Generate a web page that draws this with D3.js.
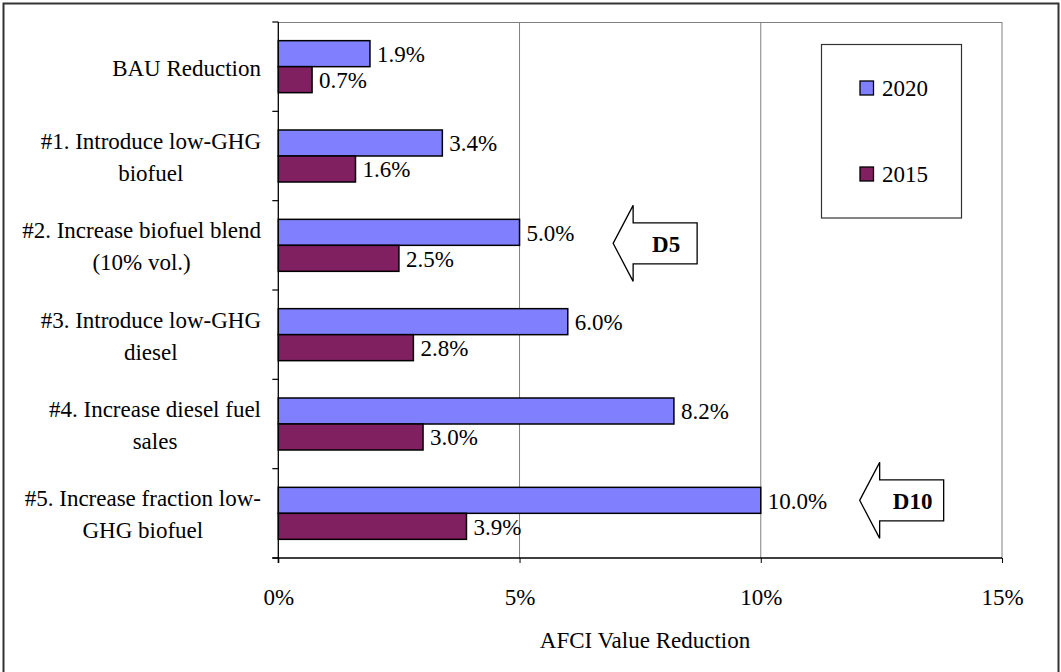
<!DOCTYPE html>
<html>
<head>
<meta charset="utf-8">
<script src="https://cdn.jsdelivr.net/npm/d3@7"></script>
<style>
  html, body { margin: 0; padding: 0; background: #fff; }
  svg text { font-family: 'Liberation Serif', Tinos, 'Times New Roman', 'DejaVu Serif', serif; }
</style>
</head>
<body>
<svg id="chart" width="1061" height="672"></svg>
<script>
// ---- data ----
const categories = [
  ["BAU Reduction"],
  ["#1. Introduce low-GHG", "biofuel"],
  ["#2. Increase biofuel blend", "(10% vol.)"],
  ["#3. Introduce low-GHG", "diesel"],
  ["#4. Increase diesel fuel", "sales"],
  ["#5. Increase fraction low-", "GHG biofuel"]
];
const seriesNames = ["2020", "2015"];
const values2020 = [1.9, 3.4, 5.0, 6.0, 8.2, 10.0];
const values2015 = [0.7, 1.6, 2.5, 2.8, 3.0, 3.9];
const xTicks = [0, 5, 10, 15];
const xTickLabels = ["0%", "5%", "10%", "15%"];
const axisTitle = "AFCI Value Reduction";
const annotations = [
  { text: "D5", category: 2, at: 6.94, shift: -2 },
  { text: "D10", category: 5, at: 12.05, shift: -13 }
];

const colors = { "2020": "#8080FF", "2015": "#802060" };
const seriesValues = { "2020": values2020, "2015": values2015 };
const FONT = "'Liberation Serif', Tinos, 'Times New Roman', 'DejaVu Serif', serif";

const svg = d3.select("#chart");
const plot = { left: 278.3, right: 1002, top: 22, bottom: 558 };
const FS = 23;

// outer frame
svg.append("rect").attr("x", 3.5).attr("y", 3.5).attr("width", 1055).attr("height", 672)
  .attr("fill", "#fff").attr("stroke", "#333").attr("stroke-width", 2);

const x = d3.scaleLinear().domain([0, 15]).range([plot.left, plot.right]);
const y = d3.scaleBand().domain(d3.range(categories.length)).range([plot.top, plot.bottom]).padding(0);
const sub = d3.scaleBand().domain(seriesNames).range([-26, 26]);

// gridlines
svg.append("g").selectAll("line").data(xTicks.filter(d => d > 0)).join("line")
  .attr("x1", d => x(d)).attr("x2", d => x(d))
  .attr("y1", plot.top).attr("y2", plot.bottom)
  .attr("stroke", "#808080").attr("stroke-width", 1);
svg.append("line").attr("x1", plot.left).attr("x2", plot.right)
  .attr("y1", plot.top + 0.5).attr("y2", plot.top + 0.5)
  .attr("stroke", "#808080").attr("stroke-width", 1.2);

// bars
const groups = svg.append("g").selectAll("g").data(categories.map((c, i) => i)).join("g")
  .attr("transform", i => `translate(0,${y(i) + y.bandwidth() / 2})`);
seriesNames.forEach(s => {
  groups.append("rect")
    .attr("x", x(0))
    .attr("y", sub(s))
    .attr("width", i => x(seriesValues[s][i]) - x(0))
    .attr("height", sub.bandwidth())
    .attr("fill", colors[s])
    .attr("stroke", "#000").attr("stroke-width", 1.5);
  groups.append("text")
    .attr("x", i => x(seriesValues[s][i]) + 7)
    .attr("y", sub(s) + sub.bandwidth() / 2)
    .attr("dy", "0.36em")
    .attr("font-size", FS).attr("font-family", FONT)
    .attr("fill", "#000")
    .text(i => seriesValues[s][i].toFixed(1) + "%");
});

// axes
const xAxis = d3.axisBottom(x).tickValues(xTicks).tickFormat((d, i) => xTickLabels[i]).tickSize(5).tickPadding(26);
const gx = svg.append("g").attr("transform", `translate(0,${plot.bottom})`).call(xAxis);
gx.select(".domain").remove();
gx.selectAll(".tick line").attr("stroke", "#000");
gx.selectAll(".tick text").attr("font-size", FS).attr("font-family", FONT).attr("fill", "#000");
gx.attr("font-family", FONT).attr("font-size", FS);
svg.append("line").attr("x1", plot.left - 6).attr("x2", plot.right)
  .attr("y1", plot.bottom).attr("y2", plot.bottom).attr("stroke", "#000").attr("stroke-width", 1.3);

// left axis line and ticks at band boundaries
svg.append("line").attr("x1", plot.left).attr("x2", plot.left)
  .attr("y1", plot.top).attr("y2", plot.bottom + 5).attr("stroke", "#000").attr("stroke-width", 1.3);
const boundaries = d3.range(categories.length + 1).map(i => plot.top + i * y.step());
svg.append("g").selectAll("line").data(boundaries).join("line")
  .attr("x1", plot.left - 6).attr("x2", plot.left)
  .attr("y1", d => d).attr("y2", d => d)
  .attr("stroke", "#000").attr("stroke-width", 1.2);

// category labels (block right-aligned, lines centered)
const labelRight = 261;
categories.forEach((lines, i) => {
  const c = y(i) + y.bandwidth() / 2;
  const g = svg.append("g");
  const texts = lines.map(t => g.append("text").attr("font-size", FS).attr("font-family", FONT).attr("fill", "#000").text(t));
  const widths = texts.map(t => t.node().getComputedTextLength());
  const maxW = d3.max(widths);
  const cx = labelRight - maxW / 2;
  texts.forEach((t, j) => {
    const base = lines.length === 1 ? c + 9 : c - 7 + j * 32;
    t.attr("x", cx).attr("y", base).attr("text-anchor", "middle");
  });
});

// axis title
svg.append("text").attr("x", 645).attr("y", 648).attr("text-anchor", "middle")
  .attr("font-size", FS).attr("font-family", FONT).attr("fill", "#000").text(axisTitle);

// legend
const lg = svg.append("g");
lg.append("rect").attr("x", 821.5).attr("y", 44.5).attr("width", 140).attr("height", 173.5)
  .attr("fill", "#fff").attr("stroke", "#333").attr("stroke-width", 1.2);
seriesNames.forEach((s, i) => {
  const yy = 81 + i * 86;
  lg.append("rect").attr("x", 860).attr("y", yy).attr("width", 13.5).attr("height", 14)
    .attr("fill", colors[s]).attr("stroke", "#000").attr("stroke-width", 1.3);
  lg.append("text").attr("x", 882).attr("y", yy + 15).attr("font-size", FS).attr("font-family", FONT)
    .attr("fill", "#000").text(s);
});

// annotation arrows
annotations.forEach(a => {
  const tipX = x(a.at);
  const cy = y(a.category) + y.bandwidth() / 2 + a.shift;
  const headW = 20, headH = 38, bodyH = 20.5, bodyLen = 64;
  const pts = [
    [tipX, cy],
    [tipX + headW, cy - headH],
    [tipX + headW, cy - bodyH],
    [tipX + headW + bodyLen, cy - bodyH],
    [tipX + headW + bodyLen, cy + bodyH],
    [tipX + headW, cy + bodyH],
    [tipX + headW, cy + headH]
  ];
  svg.append("polygon").attr("points", pts.map(p => p.join(",")).join(" "))
    .attr("fill", "#fff").attr("stroke", "#000").attr("stroke-width", 1.3);
  svg.append("text").attr("x", tipX + headW + bodyLen / 2 + 1).attr("y", cy + 9)
    .attr("text-anchor", "middle").attr("font-weight", "bold").attr("font-size", FS)
    .attr("font-family", FONT).attr("fill", "#000").text(a.text);
});
</script>
</body>
</html>
